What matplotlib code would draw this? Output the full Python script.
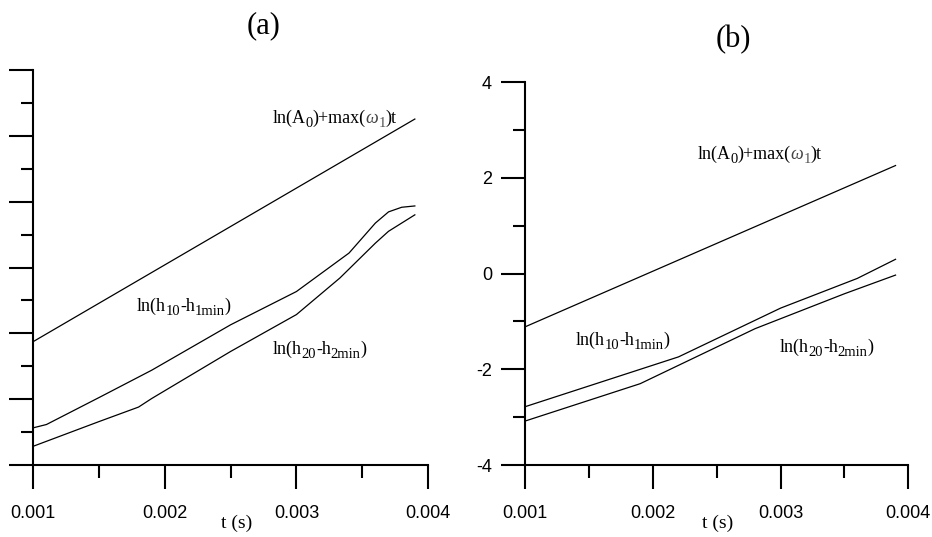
import matplotlib
matplotlib.use("Agg")
import matplotlib.pyplot as plt
from matplotlib.ticker import MultipleLocator, NullFormatter

SERIF = ["Liberation Serif", "DejaVu Serif"]
SANS = ["Liberation Sans", "DejaVu Sans"]

# ---- panel (a) data ----
t_a_ref = [0.001, 0.0039]
ref_a = [-2.25, 4.51]

t_a_h1 = [0.001, 0.0011, 0.0015, 0.0019, 0.0025, 0.003, 0.0034, 0.0036, 0.0037, 0.0038, 0.0039]
h1_a = [-4.87, -4.77, -3.95, -3.12, -1.74, -0.73, 0.44, 1.35, 1.69, 1.83, 1.87]

t_a_h2 = [0.001, 0.0015, 0.0018, 0.0019, 0.0025, 0.003, 0.00333, 0.0036, 0.0037, 0.0039]
h2_a = [-5.43, -4.68, -4.24, -3.98, -2.55, -1.43, -0.32, 0.74, 1.10, 1.60]

# ---- panel (b) data ----
t_b_ref = [0.001, 0.0039]
ref_b = [-1.11, 2.26]

t_b_h1 = [0.001, 0.0022, 0.003, 0.0036, 0.0039]
h1_b = [-2.78, -1.74, -0.72, -0.10, 0.30]

t_b_h2 = [0.001, 0.0019, 0.0028, 0.0035, 0.0039]
h2_b = [-3.08, -2.30, -1.15, -0.42, -0.03]

x_ticks = [0.001, 0.002, 0.003, 0.004]
x_ticklabels = ["0.001", "0.002", "0.003", "0.004"]
y_ticks_b = [-4, -2, 0, 2, 4]
y_ticklabels_b = ["-4", "-2", "0", "2", "4"]

# curve labels as (text, is_subscript, italic, colour) runs
MAIN, SUB = False, True
label_ref = [("ln(A", MAIN, False, "k"), ("0", SUB, False, "k"), (")+max(", MAIN, False, "k"),
             ("ω", MAIN, True, "#444444"), ("1", SUB, False, "#555555"), (")t", MAIN, False, "k")]
label_h1 = [("ln(h", MAIN, False, "k"), ("10", SUB, False, "k"), ("-h", MAIN, False, "k"),
            ("1min", SUB, False, "k"), (")", MAIN, False, "k")]
label_h2 = [("ln(h", MAIN, False, "k"), ("20", SUB, False, "k"), ("-h", MAIN, False, "k"),
            ("2min", SUB, False, "k"), (")", MAIN, False, "k")]

W, H = 932, 537
fig = plt.figure(figsize=(W / 100, H / 100), dpi=100)
renderer = fig.canvas.get_renderer()


def px_axes(left, top, right, bottom):
    return fig.add_axes([left / W, 1 - bottom / H, (right - left) / W, (bottom - top) / H])


ax_a = px_axes(33.3, 70, 428, 465)
ax_b = px_axes(525.3, 82.3, 908.3, 465)


def style(ax, ylim, ymajor, show_ylabels, xlabel_x, height_px):
    for s in ("top", "right"):
        ax.spines[s].set_visible(False)
    for s in ("left", "bottom"):
        ax.spines[s].set_linewidth(1.5)
    ax.set_xlim(0.001, 0.004)
    ax.set_ylim(*ylim)
    ax.set_xticks(x_ticks)
    ax.set_xticklabels(x_ticklabels, fontfamily=SANS, fontsize=13)
    ax.xaxis.set_minor_locator(MultipleLocator(0.0005))
    ax.yaxis.set_major_locator(MultipleLocator(ymajor))
    ax.yaxis.set_minor_locator(MultipleLocator(ymajor / 2))
    ax.tick_params(which="major", direction="out", length=17, width=1.5)
    ax.tick_params(axis="x", which="major", pad=12)
    ax.tick_params(axis="y", which="major", pad=7)
    ax.tick_params(which="minor", direction="out", length=9, width=1.5)
    if not show_ylabels:
        ax.yaxis.set_major_formatter(NullFormatter())
    ax.set_xlabel("t (s)", fontfamily=SERIF, fontsize=14, va="center")
    ax.xaxis.set_label_coords(xlabel_x, -58 / height_px)


lw = 0.9
ax_a.plot(t_a_ref, ref_a, color="black", lw=lw, solid_joinstyle="round")
ax_a.plot(t_a_h1, h1_a, color="black", lw=lw, solid_joinstyle="round")
ax_a.plot(t_a_h2, h2_a, color="black", lw=lw, solid_joinstyle="round")
style(ax_a, (-6, 6), 2, False, (237 - 33.3) / 394.7, 395)

ax_b.plot(t_b_ref, ref_b, color="black", lw=lw)
ax_b.plot(t_b_h1, h1_b, color="black", lw=lw)
ax_b.plot(t_b_h2, h2_b, color="black", lw=lw)
style(ax_b, (-4, 4), 2, True, 0.503, 382.7)
ax_b.set_yticks(y_ticks_b)
ax_b.set_yticklabels(y_ticklabels_b, fontfamily=SANS, fontsize=13)


def ptext(x, y, s, **kw):
    return fig.text(x / W, 1 - y / H, s, fontfamily=SERIF, **kw)


def run_label(x, baseline, runs, size=13, sub_size=10.5, drop=4):
    """Lay out a label from runs of normal and lowered text, left to right."""
    for s, is_sub, italic, col in runs:
        y = baseline + (drop if is_sub else 0)
        t = ptext(x, y, s, fontsize=sub_size if is_sub else size,
                  style="italic" if italic else "normal",
                  va="baseline", ha="left", color=col)
        x += t.get_window_extent(renderer).width - 0.2


# curve annotations
run_label(273, 123, label_ref)
run_label(137, 311, label_h1)
run_label(273, 354, label_h2)

run_label(698, 159, label_ref)
run_label(576, 345, label_h1)
run_label(780, 352, label_h2)

# panel titles
ptext(264, 26, "(a)", fontsize=22, va="center", ha="center")
ptext(733, 40, "(b)", fontsize=22, va="center", ha="center")

fig.savefig("out.png", dpi=100, facecolor="white")
